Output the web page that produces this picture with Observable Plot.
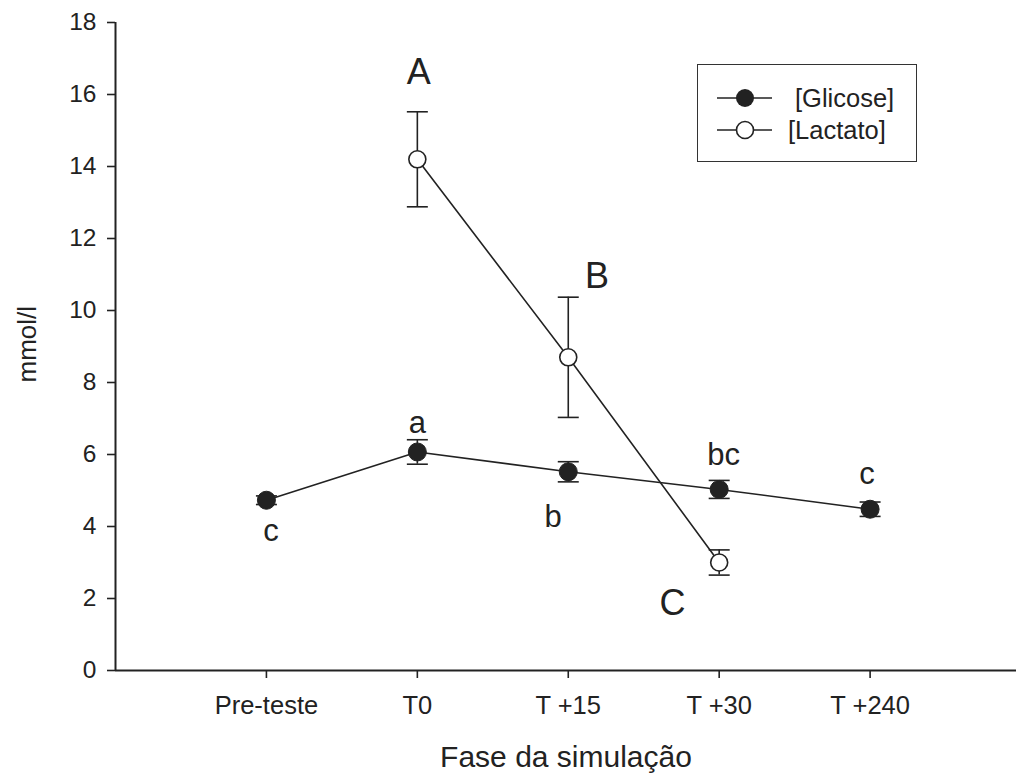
<!DOCTYPE html>
<html>
<head>
<meta charset="utf-8">
<script src="https://cdn.jsdelivr.net/npm/d3@7"></script>
<script src="https://cdn.jsdelivr.net/npm/@observablehq/plot@0.6"></script>
<style>
  html, body { margin: 0; padding: 0; background: #fff; }
  #wrap { position: relative; width: 1016px; height: 780px; font-family: "Liberation Sans", Arial, sans-serif; color: #222; }
  #legend { position: absolute; left: 697px; top: 64px; width: 218px; height: 96px; border: 1.5px solid #333; background: #fff; }
</style>
</head>
<body>
<div id="wrap"></div>
<script>
// ---- data ----
const categories = ["Pre-teste", "T0", "T +15", "T +30", "T +240"];
const glucoseMean = [4.73, 6.07, 5.52, 5.03, 4.48];
const glucoseErr  = [0.12, 0.34, 0.28, 0.25, 0.20];
const lactateCategories = ["T0", "T +15", "T +30"];
const lactateMean = [14.2, 8.7, 3.0];
const lactateErr  = [1.32, 1.67, 0.35];
// significance letters (text, x in category units, y in mmol/l)
const letterText = ["c", "a", "b", "bc", "c", "A", "B", "C"];
const letterX    = [0.03, 1.0, 1.9, 3.03, 3.98, 1.01, 2.19, 2.69];
const letterY    = [3.88, 6.88, 4.27, 5.99, 5.46, 16.61, 10.94, 1.86];
const yTicks = [0, 2, 4, 6, 8, 10, 12, 14, 16, 18];

const ink = "#222";
const idx = c => categories.indexOf(c);
const glucose = categories.map((c, i) => ({i: idx(c), m: glucoseMean[i], lo: glucoseMean[i] - glucoseErr[i], hi: glucoseMean[i] + glucoseErr[i]}));
const lactate = lactateCategories.map((c, i) => ({i: idx(c), m: lactateMean[i], lo: lactateMean[i] - lactateErr[i], hi: lactateMean[i] + lactateErr[i]}));
const letters = letterText.map((t, k) => ({t, x: letterX[k], y: letterY[k], upper: t === t.toUpperCase()}));

const capSymbol = {draw(ctx, size) { const r = Math.sqrt(size / Math.PI); ctx.moveTo(-r, 0); ctx.lineTo(r, 0); }};

const errorMarks = (data) => [
  Plot.ruleX(data, {x: "i", y1: "lo", y2: "hi", stroke: ink, strokeWidth: 1.6}),
  Plot.dot(data, {x: "i", y: "lo", symbol: capSymbol, r: 10.5, stroke: ink, strokeWidth: 1.6, fill: "none"}),
  Plot.dot(data, {x: "i", y: "hi", symbol: capSymbol, r: 10.5, stroke: ink, strokeWidth: 1.6, fill: "none"})
];

const chart = Plot.plot({
  width: 1016,
  height: 780,
  marginTop: 22,
  marginBottom: 110,
  marginLeft: 115,
  marginRight: 0,
  style: {fontFamily: "'Liberation Sans', Arial, sans-serif", color: ink, background: "#fff"},
  x: {type: "linear", domain: [-1, 4.97], axis: null},
  y: {domain: [0, 18], axis: null},
  marks: [
    Plot.axisX({ticks: d3.range(categories.length), tickFormat: i => categories[i], tickSize: 8, tickPadding: 17, fontSize: 25.5, stroke: ink, strokeWidth: 1.6, fill: ink, label: null}),
    Plot.axisY({ticks: yTicks, tickSize: 8, tickPadding: 11, fontSize: 24.5, stroke: ink, strokeWidth: 1.6, fill: ink, label: null}),
    Plot.ruleX([-1], {y1: 0, y2: 18, stroke: ink, strokeWidth: 2}),
    Plot.ruleY([0], {stroke: ink, strokeWidth: 2}),
    Plot.text(["mmol/l"], {frameAnchor: "left", dx: -88, dy: 36, rotate: -90, fontSize: 26, fill: ink}),
    Plot.text(["Fase da simulação"], {frameAnchor: "bottom", dy: 96, fontSize: 30, fill: ink}),
    Plot.line(glucose, {x: "i", y: "m", stroke: ink, strokeWidth: 1.6}),
    Plot.line(lactate, {x: "i", y: "m", stroke: ink, strokeWidth: 1.6}),
    ...errorMarks(glucose),
    ...errorMarks(lactate),
    Plot.dot(glucose, {x: "i", y: "m", r: 9, fill: ink, stroke: ink, strokeWidth: 1}),
    Plot.dot(lactate, {x: "i", y: "m", r: 8.5, fill: "#fff", stroke: ink, strokeWidth: 1.6}),
    Plot.text(letters.filter(d => !d.upper), {x: "x", y: "y", text: "t", fontSize: 31, fill: ink}),
    Plot.text(letters.filter(d => d.upper), {x: "x", y: "y", text: "t", fontSize: 36, fill: ink})
  ]
});

const wrap = document.getElementById("wrap");
wrap.appendChild(chart);

// legend
const legend = document.createElement("div");
legend.id = "legend";
legend.innerHTML = `
<svg width="218" height="96" style="position:absolute;left:0;top:0">
  <line x1="19" x2="74" y1="33" y2="33" stroke="${ink}" stroke-width="1.6"/>
  <circle cx="47" cy="33" r="9" fill="${ink}"/>
  <text x="97" y="42" font-size="25.5" fill="${ink}" font-family="'Liberation Sans', Arial, sans-serif">[Glicose]</text>
  <line x1="19" x2="74" y1="65" y2="65" stroke="${ink}" stroke-width="1.6"/>
  <circle cx="47" cy="65" r="8.5" fill="#fff" stroke="${ink}" stroke-width="1.6"/>
  <text x="90" y="74" font-size="25.5" fill="${ink}" font-family="'Liberation Sans', Arial, sans-serif">[Lactato]</text>
</svg>`;
wrap.appendChild(legend);
</script>
</body>
</html>
